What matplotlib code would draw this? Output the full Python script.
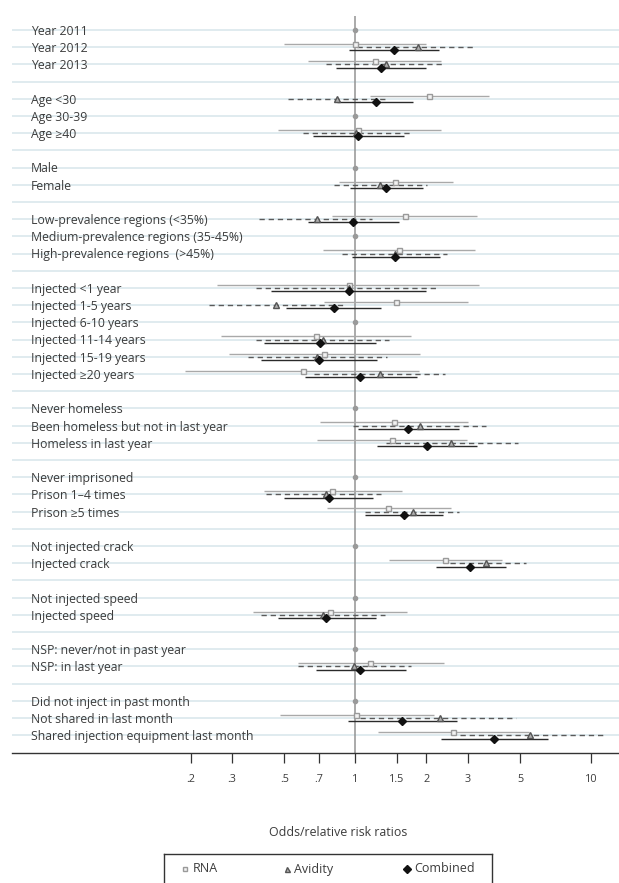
import numpy as np
import matplotlib
matplotlib.use("Agg")
import matplotlib.pyplot as plt
import matplotlib.transforms as mtransforms

plt.rcParams['font.family'] = ['Open Sans', 'DejaVu Sans']

n = np.nan

rows = [
    "Year 2011", "Year 2012", "Year 2013", "",
    "Age <30", "Age 30-39", "Age \u226540", "",
    "Male", "Female", "",
    "Low-prevalence regions (<35%)", "Medium-prevalence regions (35-45%)",
    "High-prevalence regions  (>45%)", "",
    "Injected <1 year", "Injected 1-5 years", "Injected 6-10 years",
    "Injected 11-14 years", "Injected 15-19 years", "Injected \u226520 years", "",
    "Never homeless", "Been homeless but not in last year", "Homeless in last year", "",
    "Never imprisoned", "Prison 1\u20134 times", "Prison \u22655 times", "",
    "Not injected crack", "Injected crack", "",
    "Not injected speed", "Injected speed", "",
    "NSP: never/not in past year", "NSP: in last year", "",
    "Did not inject in past month", "Not shared in last month",
    "Shared injection equipment last month",
]

reference = ["Year 2011", "Age 30-39", "Male", "Medium-prevalence regions (35-45%)",
             "Injected 6-10 years", "Never homeless", "Never imprisoned",
             "Not injected crack", "Not injected speed", "NSP: never/not in past year",
             "Did not inject in past month"]

# estimates per row (nan = reference category or spacer)
rna =     [n, 1.00, 1.21, n, 2.06, n, 1.03, n, n, 1.48, n, 1.62, n, 1.53, n,
           0.94, 1.49, n, 0.68, 0.74, 0.60, n, n, 1.46, 1.43, n, n, 0.80, 1.38, n,
           n, 2.40, n, n, 0.78, n, n, 1.15, n, n, 1.01, 2.61]
rna_lo =  [n, 0.50, 0.63, n, 1.15, n, 0.47, n, n, 0.85, n, 0.80, n, 0.73, n,
           0.26, 0.74, n, 0.27, 0.29, 0.19, n, n, 0.71, 0.69, n, n, 0.41, 0.76, n,
           n, 1.39, n, n, 0.37, n, n, 0.57, n, n, 0.48, 1.25]
rna_hi =  [n, 2.00, 2.32, n, 3.68, n, 2.31, n, n, 2.60, n, 3.30, n, 3.21, n,
           3.36, 3.01, n, 1.73, 1.89, 1.87, n, n, 3.00, 2.97, n, n, 1.58, 2.54, n,
           n, 4.19, n, n, 1.66, n, n, 2.38, n, n, 2.16, 5.46]

avid =    [n, 1.84, 1.35, n, 0.84, n, 1.01, n, n, 1.27, n, 0.69, n, 1.48, n,
           0.94, 0.46, n, 0.73, 0.69, 1.27, n, n, 1.89, 2.55, n, n, 0.75, 1.76, n,
           n, 3.57, n, n, 0.73, n, n, 0.99, n, n, 2.29, 5.51]
avid_lo = [n, 1.02, 0.75, n, 0.52, n, 0.60, n, n, 0.81, n, 0.39, n, 0.88, n,
           0.38, 0.24, n, 0.38, 0.35, 0.67, n, n, 0.98, 1.35, n, n, 0.42, 1.10, n,
           n, 2.52, n, n, 0.40, n, n, 0.57, n, n, 1.05, 2.78]
avid_hi = [n, 3.19, 2.41, n, 1.38, n, 1.75, n, n, 2.02, n, 1.18, n, 2.44, n,
           2.24, 0.90, n, 1.39, 1.36, 2.41, n, n, 3.58, 4.89, n, n, 1.28, 2.75, n,
           n, 5.30, n, n, 1.34, n, n, 1.72, n, n, 4.79, 11.5]

comb =    [n, 1.46, 1.28, n, 1.22, n, 1.03, n, n, 1.35, n, 0.98, n, 1.48, n,
           0.94, 0.81, n, 0.71, 0.70, 1.05, n, n, 1.68, 2.01, n, n, 0.77, 1.61, n,
           n, 3.08, n, n, 0.75, n, n, 1.05, n, n, 1.58, 3.89]
comb_lo = [n, 0.94, 0.83, n, 0.84, n, 0.66, n, n, 0.95, n, 0.63, n, 0.97, n,
           0.44, 0.51, n, 0.41, 0.40, 0.61, n, n, 1.03, 1.24, n, n, 0.50, 1.10, n,
           n, 2.19, n, n, 0.47, n, n, 0.68, n, n, 0.93, 2.31]
comb_hi = [n, 2.26, 2.00, n, 1.76, n, 1.61, n, n, 1.94, n, 1.53, n, 2.28, n,
           1.99, 1.28, n, 1.22, 1.24, 1.82, n, n, 2.76, 3.27, n, n, 1.19, 2.35, n,
           n, 4.34, n, n, 1.22, n, n, 1.64, n, n, 2.69, 6.59]

ticks = [.2, .3, .5, .7, 1, 1.5, 2, 3, 5, 10]
tick_labels = [".2", ".3", ".5", ".7", "1", "1.5", "2", "3", "5", "10"]

W, H = 619, 883
fig = plt.figure(figsize=(W / 100, H / 100), dpi=100)
ax = fig.add_axes([11.8 / W, 1 - 753 / H, 1 - 11.8 / W, (753 - 15.7) / H])

y = np.arange(1, len(rows) + 1)
ax.set_xscale("log")
ax.set_xlim(0.0349, 13.15)
ax.set_ylim(43.03, 0.17)

for yy in y:
    ax.axhline(yy, color="#dde9ee", lw=1.3, zorder=0)
ax.axvline(1, color="#939393", lw=1.1, zorder=1)

blend = mtransforms.blended_transform_factory(ax.transAxes, ax.transData)
for yy, lab in zip(y, rows):
    if lab:
        ax.text(19 / (W - 11.8), yy + 0.08, lab, transform=blend, va="center", ha="left",
                fontsize=8.8, color="#3c3c3c")
    if lab in reference:
        ax.plot(1, yy, "o", ms=3, color="#9a9a9a", zorder=3)

off = 0.19
rna, rna_lo, rna_hi = map(np.array, (rna, rna_lo, rna_hi))
avid, avid_lo, avid_hi = map(np.array, (avid, avid_lo, avid_hi))
comb, comb_lo, comb_hi = map(np.array, (comb, comb_lo, comb_hi))

ax.hlines(y - off, rna_lo, rna_hi, color="#a9a9a9", lw=1.0, zorder=2)
ax.plot(rna, y - off, "s", ms=3.6, mfc="#f2f2f2", mec="#9a9a9a", mew=1.0, ls="none", zorder=4)

ax.hlines(y, avid_lo, avid_hi, color="#5a5a5a", lw=1.0, linestyles=(0, (3.8, 2.8)), zorder=2)
ax.plot(avid, y, "^", ms=4, mfc="#b0b0b0", mec="#555555", mew=1.0, ls="none", zorder=5)

ax.hlines(y + off, comb_lo, comb_hi, color="#2a2a2a", lw=1.0, zorder=2)
ax.plot(comb, y + off, "D", ms=4.2, color="#111111", ls="none", zorder=6)

for s in ["top", "right", "left"]:
    ax.spines[s].set_visible(False)
ax.spines["bottom"].set_color("#333333")
ax.spines["bottom"].set_linewidth(1.0)
ax.set_yticks([])
ax.set_xticks(ticks)
ax.set_xticklabels(tick_labels)
ax.minorticks_off()
ax.tick_params(axis="x", length=7, width=0.9, color="#333333", pad=8,
               labelsize=7.8, labelcolor="#3c3c3c")

fig.text(338 / W, 1 - 832 / H, "Odds/relative risk ratios", ha="center", va="center",
         fontsize=8.9, color="#3c3c3c")

# legend box
lax = fig.add_axes([163.8 / W, 1 - 890 / H, (491.5 - 163.8) / W, 36 / H])
lax.set_xlim(163.8, 491.5)
lax.set_ylim(890, 854)
lax.set_xticks([])
lax.set_yticks([])
for s in lax.spines.values():
    s.set_color("#333333")
    s.set_linewidth(1.0)
handles = [
    (184.8, "s", dict(ms=3.2, mfc="#f2f2f2", mec="#9a9a9a", mew=1.0), "RNA"),
    (287.0, "^", dict(ms=3.6, mfc="#b0b0b0", mec="#555555", mew=1.0), "Avidity"),
    (406.6, "D", dict(ms=3.8, color="#111111"), "Combined"),
]
for hx, mk, kw, lab in handles:
    lax.plot(hx, 868.5, mk, **kw)
    lax.text(hx + 7.5, 869, lab, va="center", ha="left", fontsize=9, color="#3c3c3c")

fig.savefig("out.png", dpi=100)
